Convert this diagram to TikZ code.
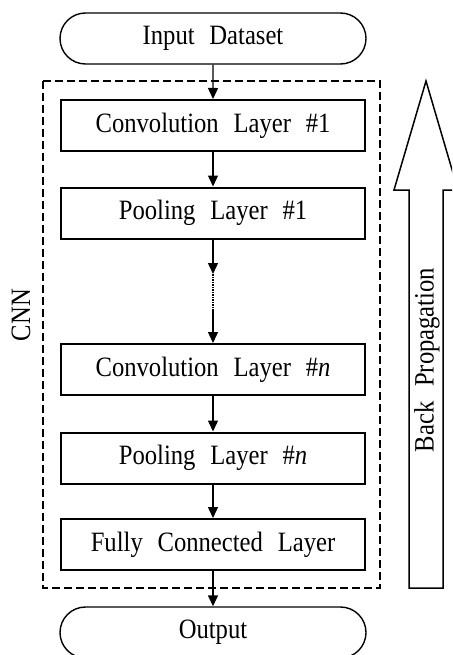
\documentclass[tikz,border=0pt]{standalone}
\usepackage{fontspec}
\setmainfont{Liberation Serif}[FakeStretch=0.88, WordSpace=2.4]
\usetikzlibrary{arrows.meta,shapes.misc}
\begin{document}
\begin{tikzpicture}[x=1pt,y=-1pt,
  every node/.style={font=\fontsize{28}{30}\selectfont, inner sep=0pt},
  layer/.style={draw, line width=2pt, minimum width=304pt, minimum height=51pt},
  terminal/.style={draw, line width=1.4pt, rounded rectangle, minimum width=306pt, minimum height=51pt},
  flow/.style={line width=1.4pt, -{Triangle[length=11pt,width=10pt]}},
  group/.style={draw, line width=1.8pt, dash pattern=on 8pt off 4pt}
]
\useasboundingbox (0,0) rectangle (452,655);
\clip (0,0) rectangle (452,655);

% CNN group frame
\draw[group] (43,81) rectangle (380,588);
\node[rotate=90] (cnn) at (21,315) {CNN};

% terminals and layers
\node[terminal] (in) at (213,38.5) {Input Dataset};
\node[layer] (c1) at (213,125.5) {Convolution Layer \#1};
\node[layer] (p1) at (213,213) {Pooling Layer \#1};
\node[layer] (cn) at (213,369.5) {Convolution Layer \#\textit{n}};
\node[layer] (pn) at (213,458) {Pooling Layer \#\textit{n}};
\node[layer] (fc) at (213,544.5) {Fully Connected Layer};
\node[terminal] (out) at (213,632.5) {Output};

% connectors
\coordinate (g1) at (213,274);
\coordinate (g2) at (213,310);
\draw[flow] (in) -- (c1);
\draw[flow] (c1) -- (p1);
\draw[flow] (p1) -- (g1);
\draw[line width=1.4pt, dash pattern=on 1.5pt off 1pt] (g1) -- (g2);
\draw[flow] (g2) -- (cn);
\draw[flow] (cn) -- (pn);
\draw[flow] (pn) -- (fc);
\draw[flow] (fc) -- (out);

% hollow back propagation arrow
\draw[line width=1.5pt, line join=miter]
  (409,588) -- (443,588) -- (443,190) -- (458,190) -- (426,81)
  -- (394,190) -- (409,190) -- cycle;
\node[rotate=90] (bp) at (427,360) {Back Propagation};
\end{tikzpicture}
\end{document}
